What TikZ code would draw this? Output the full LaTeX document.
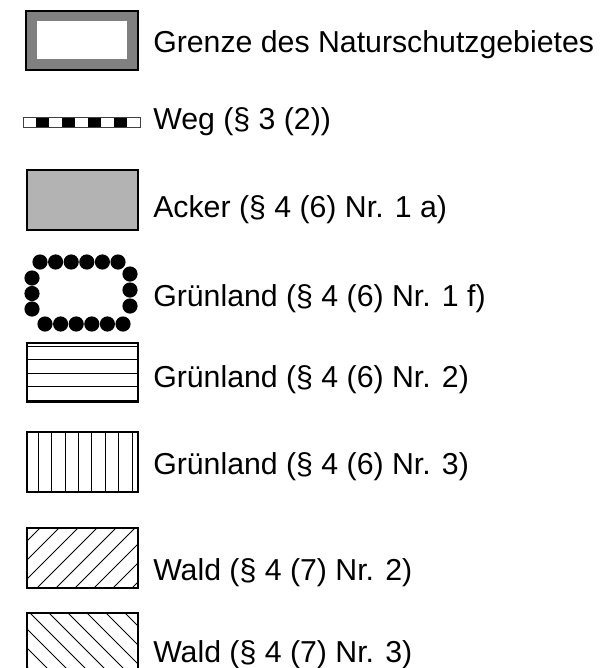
\documentclass[tikz,border=0pt]{standalone}
\usepackage{fontspec}
\setmainfont{Liberation Sans}
\definecolor{bordergray}{HTML}{808080}
\definecolor{ackergray}{HTML}{B3B3B3}
\begin{document}
\begin{tikzpicture}[x=0.75pt,y=-0.75pt,
  lbl/.style={anchor=base west, inner sep=0pt, font=\fontsize{22.7pt}{27pt}\selectfont},
  frame/.style={draw=black, line width=0.9pt},
  hatch/.style={draw=black, line width=0.75pt},
  dot/.style={fill=black}]
\useasboundingbox (0,0) rectangle (604,668);
% Grenze
\fill[bordergray] (26,11) rectangle (138,70);
\draw[frame] (26,11) rectangle (138,70);
\fill[white] (37,21) rectangle (127,59);
% Weg
\foreach \i in {1,3,5,7} \fill[black] (23+13*\i,117) rectangle (36+13*\i,127);
\draw[draw=black!75, line width=0.6pt] (23,117) rectangle (140,127);
% Acker
\draw[frame, fill=ackergray] (27,170) rectangle (138,230);
% Gruenland dots
\foreach \x in {40,55.6,71.2,86.8,102.4,118} \fill[dot] (\x,262) circle (7.6);
\foreach \x in {45,60.6,76.2,91.8,107.4,123} \fill[dot] (\x,324) circle (7.6);
\foreach \y in {278,293.5,309} \fill[dot] (32,\y) circle (7.6);
\foreach \y in {274,290,306} \fill[dot] (130,\y) circle (7.6);
% horizontal stripes
\draw[frame] (27,343) rectangle (138,402);
\foreach \y in {346,359.5,373,386.5,400} \draw[hatch] (27,\y) -- (138,\y);
% vertical stripes
\draw[frame] (27,432) rectangle (138,492);
\foreach \x in {38.3,51.7,65.1,78.5,91.9,105.3,118.7,132.1} \draw[hatch] (\x,432) -- (\x,492);
% Wald /
\begin{scope}
\clip (27,528) rectangle (138,588);
\foreach \c in {549,568,...,739} \draw[hatch] (\c-528,528) -- (\c-588,588);
\end{scope}
\draw[frame] (27,528) rectangle (138,588);
% Wald \
\begin{scope}
\clip (27,613) rectangle (138,700);
\foreach \c in {-678,-659,...,-469} \draw[hatch] (\c+613,613) -- (\c+700,700);
\end{scope}
\draw[frame] (27,613) rectangle (138,700);
% labels
\node[lbl] (t1) at (153,52) {Grenze des Naturschutzgebietes};
\node[lbl] (t2) at (153,129) {Weg (§ 3 (2))};
\node[lbl] (t3) at (153,217) {Acker (§ 4 (6) Nr. 1 a)};
\node[lbl] (t4) at (153,306) {Grünland (§ 4 (6) Nr. 1 f)};
\node[lbl] (t5) at (153,387) {Grünland (§ 4 (6) Nr. 2)};
\node[lbl] (t6) at (153,474) {Grünland (§ 4 (6) Nr. 3)};
\node[lbl] (t7) at (153,580) {Wald (§ 4 (7) Nr. 2)};
\node[lbl] (t8) at (153,662) {Wald (§ 4 (7) Nr. 3)};
\end{tikzpicture}
\end{document}
